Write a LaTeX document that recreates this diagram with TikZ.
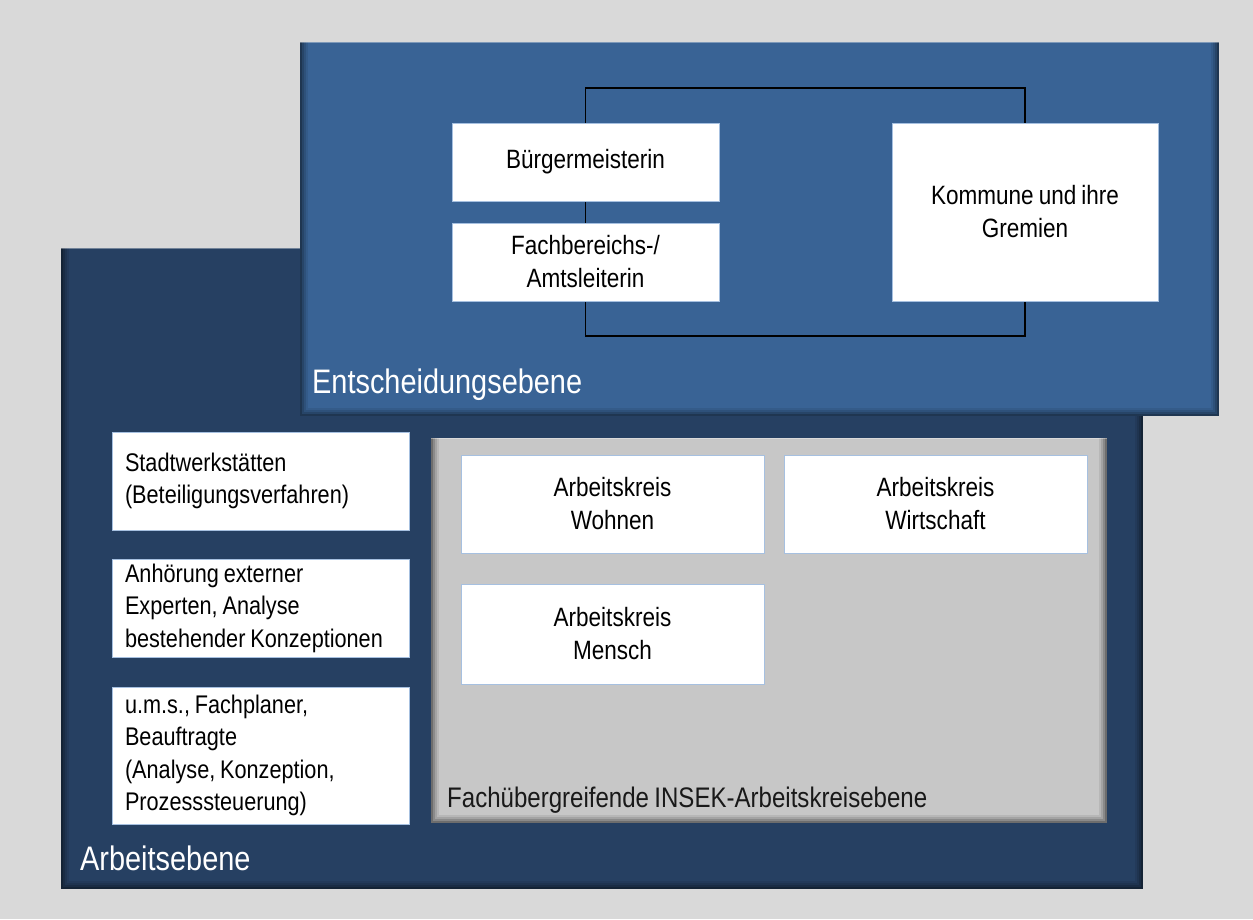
\documentclass[tikz,border=0pt]{standalone}
\usepackage{fontspec}
\setmainfont[FakeStretch=0.85,WordSpace=0.8]{Liberation Sans}
\usetikzlibrary{calc,positioning,fit,shapes}
\hyphenpenalty=10000

\definecolor{hell}{HTML}{D9D9D9}
\definecolor{oben}{RGB}{57,99,149}
\definecolor{unten}{RGB}{38,64,98}
\definecolor{grau}{RGB}{199,199,199}
\definecolor{rand}{RGB}{166,192,224}

\pgfdeclarelayer{hinten}
\pgfdeclarelayer{linien}
\pgfsetlayers{hinten,linien,main}

\begin{document}
\begin{tikzpicture}[x=1pt,y=-1pt,
  kasten/.style={draw=rand,fill=white,line width=1pt,inner sep=0pt,align=center,text=black,font=\fontsize{26.5}{33}\selectfont},
  kastenl/.style={kasten,align=flush left,text width=271pt,inner xsep=13pt,font=\fontsize{25.5}{32.5}\selectfont},
  ebene/.style={anchor=base west,inner sep=0pt,font=\fontsize{34}{40}\selectfont},
  verb/.style={draw=black,line width=1.3pt},
  bevel/.style={path picture={
    \foreach \d/\o in {1/.45,3/.3,5/.18,7/.08}
      \draw[black,opacity=\o,line width=2pt] ([xshift=\d pt]path picture bounding box.north west) |- ([xshift=-\d pt,yshift=\d pt]path picture bounding box.south east) -- ([xshift=-\d pt]path picture bounding box.north east);
    \draw[white,opacity=.35,line width=2pt] (path picture bounding box.north west) -- (path picture bounding box.north east);}}]
  \useasboundingbox (0,0) rectangle (1253,919);

  \begin{pgfonlayer}{hinten}
    \fill[hell] (0,0) rectangle (1253,919);
    \path[fill=unten,bevel] (61,248) rectangle (1143,889);
    \path[fill=oben,bevel] (300,42) rectangle (1219,416);
    \path[fill=grau,bevel] (431,438) rectangle (1107,823);
  \end{pgfonlayer}

  \node[kasten,minimum width=267pt,minimum height=78pt] (buerg) at (585.5,162) {B\"urgermeisterin};
  \node[kasten,minimum width=267pt,minimum height=78pt] (fach) at (585.5,262) {Fachbereichs-/\\Amtsleiterin};
  \node[kasten,minimum width=266pt,minimum height=178pt] (komm) at (1025,212) {Kommune und ihre\\Gremien};

  \node[kastenl,minimum height=98pt] (stadt) at (260.5,481) {Stadtwerkst\"atten\\(Beteiligungsverfahren)};
  \node[kastenl,minimum height=98pt] (anh) at (260.5,608) {Anh\"orung externer\\Experten, Analyse\\bestehender Konzeptionen};
  \node[kastenl,minimum height=137pt] (ums) at (260.5,755.5) {u.m.s., Fachplaner,\\Beauftragte\\(Analyse, Konzeption,\\Prozesssteuerung)};

  \node[kasten,minimum width=303pt,minimum height=98pt] (wohnen) at (612.5,504) {Arbeitskreis\\Wohnen};
  \node[kasten,minimum width=303pt,minimum height=98pt] (wirt) at (935.5,504) {Arbeitskreis\\Wirtschaft};
  \node[kasten,minimum width=303pt,minimum height=100pt] (mensch) at (612.5,634) {Arbeitskreis\\Mensch};

  \node[ebene,text=white] (entsch) at (312,393) {Entscheidungsebene};
  \node[ebene,text=white] (arbeit) at (80,870) {Arbeitsebene};
  \node[ebene,text=black!90,font=\fontsize{28.3}{35}\selectfont] (insek) at (447,807) {Fach\"ubergreifende INSEK-Arbeitskreisebene};

  \begin{pgfonlayer}{linien}
    \coordinate (oberkante) at (0,88);
    \coordinate (unterkante) at (0,336);
    \draw[verb] (buerg.center) |- (oberkante -| komm.center) -- (komm.center);
    \draw[verb] (fach.center) |- (unterkante -| komm.center) -- (komm.center);
    \draw[verb] (buerg.center) -- (fach.center);
  \end{pgfonlayer}
\end{tikzpicture}
\end{document}
